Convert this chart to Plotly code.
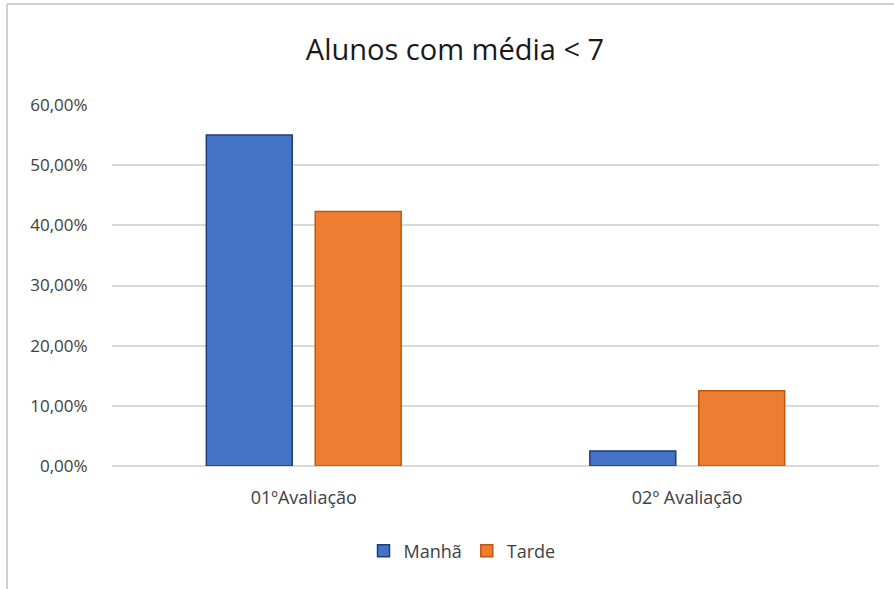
import plotly.graph_objects as go

categories = ["01ºAvaliação", "02º Avaliação"]
manha = [0.55, 0.025]
tarde = [0.423, 0.125]
series_names = ["Manhã", "Tarde"]
title_text = "Alunos com média < 7"

FONT = "'Open Sans', Lato, sans-serif"
TXT = "#404040"

fig = go.Figure()
fig.add_trace(go.Bar(x=categories, y=manha, name=series_names[0],
                     marker=dict(color="#4472C4", line=dict(color="#1F3D7A", width=1.5))))
fig.add_trace(go.Bar(x=categories, y=tarde, name=series_names[1],
                     marker=dict(color="#ED7D31", line=dict(color="#C0560F", width=1.5))))

W, H = 894, 589
L, R, T, B = 112, 15, 105, 123
PW, PH = W - L - R, H - T - B

fig.update_layout(
    width=W, height=H,
    margin=dict(l=L, r=R, t=T, b=B),
    paper_bgcolor="white", plot_bgcolor="white",
    separators=",.",
    barmode="group", bargap=0.432, bargroupgap=0.211,
    font=dict(family=FONT, color=TXT),
    title=dict(text=title_text, x=(455 - L) / PW, xref="paper", xanchor="center",
               y=1 - 50 / H, yref="container", yanchor="middle",
               font=dict(size=29, color="#1a1a1a", family=FONT)),
    legend=dict(orientation="h", x=(462 - L) / PW, xanchor="center", y=(466 - 551) / PH, yanchor="middle",
                font=dict(size=18, color=TXT), traceorder="normal"),
    showlegend=True,
)
fig.update_yaxes(range=[0, 0.6], dtick=0.1, tickformat=".2%",
                 showgrid=True, gridcolor="#D9D9D9", gridwidth=1.5,
                 zeroline=True, zerolinecolor="#D9D9D9", zerolinewidth=1.5,
                 showline=False, ticks="outside", ticklen=20, tickcolor="rgba(0,0,0,0)",
                 tickfont=dict(size=17, color=TXT, family=FONT))
fig.update_xaxes(showline=False, ticks="outside", ticklen=15, tickcolor="rgba(0,0,0,0)",
                 tickfont=dict(size=18, color=TXT, family=FONT))

# chart-area border (top and left visible)
ytop = (466 - 4) / PH
xleft = (7 - L) / PW
fig.add_shape(type="line", xref="paper", yref="paper",
              x0=xleft, x1=(W + 5 - L) / PW, y0=ytop, y1=ytop,
              line=dict(color="#D0D0D0", width=2))
fig.add_shape(type="line", xref="paper", yref="paper",
              x0=xleft, x1=xleft, y0=ytop, y1=(466 - H - 5) / PH,
              line=dict(color="#D0D0D0", width=2))

fig.write_html("out.html", config={"displayModeBar": False},
               post_script="document.body.style.margin='0px';document.body.style.overflow='hidden';")
